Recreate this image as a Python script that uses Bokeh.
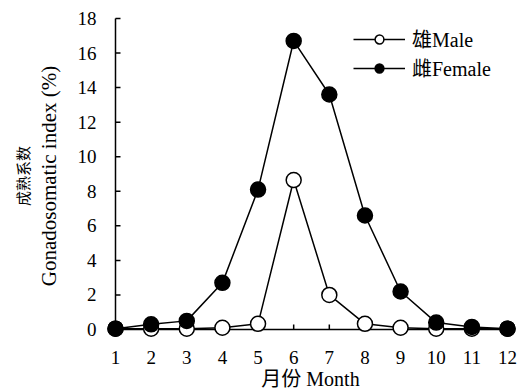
from bokeh.plotting import figure
from bokeh.models import Range1d, Legend, LegendItem, FixedTicker, LinearAxis
from bokeh.embed import file_html
from bokeh.resources import INLINE

months = [1, 2, 3, 4, 5, 6, 7, 8, 9, 10, 11, 12]
male = [0.05, 0.05, 0.05, 0.1, 0.33, 8.65, 2.0, 0.33, 0.1, 0.05, 0.05, 0.05]
female = [0.05, 0.3, 0.5, 2.7, 8.1, 16.7, 13.6, 6.6, 2.2, 0.4, 0.15, 0.05]
y_ticks = [0, 2, 4, 6, 8, 10, 12, 14, 16, 18]
male_label = "雄Male"
female_label = "雌Female"
y_label_en = "Gonadosomatic index (%)"
y_label_cn = "成熟系数"
x_label = "月份 Month"

FONT = "'Liberation Serif', 'Noto Sans CJK SC'"

p = figure(frame_width=412, frame_height=325, output_backend="svg", toolbar_location=None,
           x_range=Range1d(1 - 11 / 35.64, 12.2525), y_range=Range1d(-0.52, 18.289),
           min_border_left=104, min_border_right=5, min_border_top=13, min_border_bottom=20)
p.outline_line_color = None
p.grid.grid_line_color = None
p.background_fill_color = "white"

# axis lines and inward ticks drawn at the data origin
p.segment(x0=[months[0]], y0=[y_ticks[0]], x1=[months[0]], y1=[y_ticks[-1]],
          line_color="black", line_width=1.5)
p.segment(x0=[months[0]], y0=[y_ticks[0]], x1=[months[-1]], y1=[y_ticks[0]],
          line_color="black", line_width=1.5)
p.ray(x=[months[0]] * len(y_ticks), y=y_ticks, length=5, length_units="screen",
      angle=0, line_color="black", line_width=1.5)
p.ray(x=months, y=[y_ticks[0]] * len(months), length=5, length_units="screen",
      angle=1.5707963, line_color="black", line_width=1.5)

r_m_line = p.line(months, male, line_color="black", line_width=1.5)
r_m = p.scatter(months, male, size=15, fill_color="white", line_color="black", line_width=1.5)
r_f_line = p.line(months, female, line_color="black", line_width=1.5)
r_f = p.scatter(months, female, size=15, fill_color="black", line_color="black", line_width=1.5)

def style(ax, tick_size, label_size):
    ax.axis_line_color = None
    ax.major_tick_line_color = None
    ax.minor_tick_line_color = None
    ax.major_tick_out = 0
    ax.major_tick_in = 0
    ax.major_label_text_font = FONT
    ax.major_label_text_font_size = tick_size
    ax.major_label_text_color = "black"
    ax.axis_label_text_font = FONT
    ax.axis_label_text_font_size = label_size
    ax.axis_label_text_font_style = "normal"
    ax.axis_label_text_color = "black"

style(p.xaxis[0], "19px", "20px")
style(p.yaxis[0], "19px", "21px")

p.xaxis.ticker = FixedTicker(ticks=months)
p.xaxis.major_label_standoff = 12
p.xaxis.axis_label = x_label
p.xaxis.axis_label_standoff = 1

p.yaxis.ticker = FixedTicker(ticks=y_ticks)
p.yaxis.major_label_standoff = 8
p.yaxis.axis_label = y_label_en
p.yaxis.axis_label_standoff = 14

cn_axis = LinearAxis(ticker=FixedTicker(ticks=[]), axis_label=y_label_cn)
style(cn_axis, "1px", "15px")
cn_axis.major_label_standoff = 0
cn_axis.axis_label_standoff = 2
p.add_layout(cn_axis, "left")

legend = Legend(items=[LegendItem(label=male_label, renderers=[r_m_line, r_m]),
                       LegendItem(label=female_label, renderers=[r_f_line, r_f])],
                location=(249, 256), border_line_color=None, background_fill_alpha=0,
                padding=0, margin=0, spacing=-1, glyph_width=52, glyph_height=22,
                label_height=22, label_standoff=7, label_text_font=FONT,
                label_text_font_size="20px", label_text_color="black")
p.add_layout(legend)

open("out.html", "w").write(file_html(p, INLINE))
